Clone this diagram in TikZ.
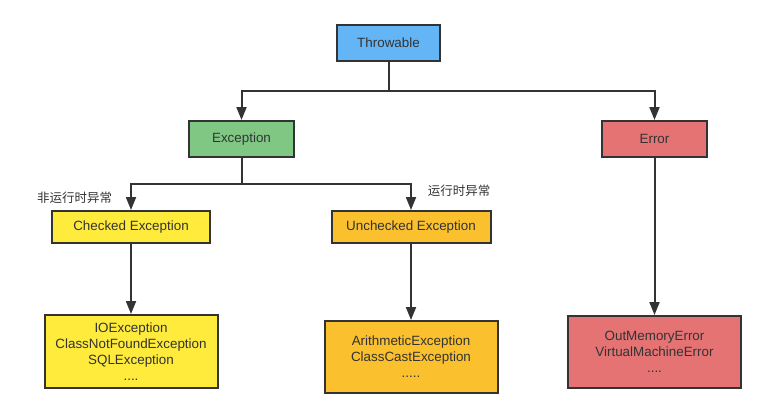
\documentclass[tikz,border=0pt]{standalone}
\usepackage{fontspec}
\setmainfont{Liberation Sans}
\newfontfamily\cjk{Noto Sans CJK SC}
\usetikzlibrary{arrows.meta}
\definecolor{cblue}{HTML}{64B5F6}
\definecolor{cgreen}{HTML}{81C784}
\definecolor{cred}{HTML}{E57373}
\definecolor{cyellow}{HTML}{FFEB3B}
\definecolor{camber}{HTML}{FBC02D}
\definecolor{cline}{HTML}{333333}
\begin{document}
\begin{tikzpicture}[x=1pt,y=-1pt,
  box/.style={draw=cline,line width=2pt,inner sep=0pt,align=center,text=cline,
    font=\fontsize{13.4}{16}\selectfont},
  arr/.style={draw=cline,line width=2pt,-{Triangle[width=10pt,length=13pt]}},
  lbl/.style={inner sep=0pt,text=cline,font=\cjk\fontsize{12.5}{15}\selectfont}]
\useasboundingbox (0,0) rectangle (765,418);
\fill[white] (0,0) rectangle (765,418);
\node[box,fill=cblue,minimum width=103pt,minimum height=36pt] (throw) at (388.5,43) {Throwable};
\node[box,fill=cgreen,minimum width=105pt,minimum height=36pt] (exc) at (241.5,139) {Exception};
\node[box,fill=cred,minimum width=105pt,minimum height=36pt] (err) at (654.5,139) {Error};
\node[box,fill=cyellow,minimum width=158pt,minimum height=32pt] (chk) at (131,227) {Checked Exception};
\node[box,fill=camber,minimum width=159pt,minimum height=32pt] (unchk) at (411,227) {Unchecked Exception};
\node[box,fill=cyellow,minimum width=173pt,minimum height=73pt] (chkl) at (131,351.5) {IOException\\ClassNotFoundException\\SQLException\\....};
\node[box,fill=camber,minimum width=173pt,minimum height=72pt] (unchkl) at (411,357) {ArithmeticException\\ClassCastException\\.....};
\node[box,fill=cred,minimum width=173pt,minimum height=72pt] (errl) at (654.5,352) {OutMemoryError\\VirtualMachineError\\....};
\node[lbl] (l1) at (74.7,197.5) {非运行时异常};
\node[lbl] (l2) at (459,191) {运行时异常};
\coordinate (j1) at (388.5,91);
\coordinate (j2) at (241.5,184);
\draw[arr] (throw.south) -- (j1) -| (exc.north);
\draw[arr] (j1) -| (err.north);
\draw[arr] (exc.south) -- (j2) -| (chk.north);
\draw[arr] (j2) -| (unchk.north);
\draw[arr] (chk.south) -- (chkl.north);
\draw[arr] (unchk.south) -- (unchkl.north);
\draw[arr] (err.south) -- (errl.north);
\end{tikzpicture}
\end{document}
